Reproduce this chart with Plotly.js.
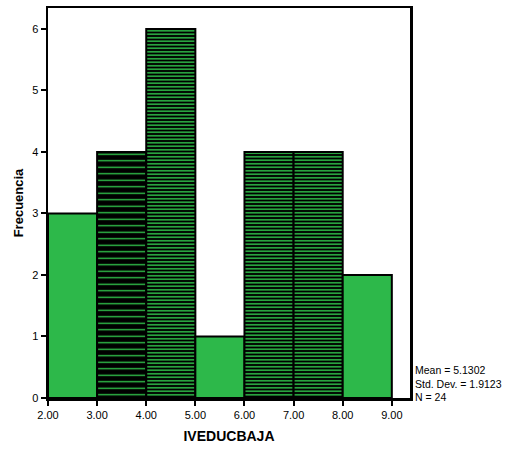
<!DOCTYPE html>
<html>
<head>
<meta charset="utf-8">
<script src="https://cdn.plot.ly/plotly-3.0.1.min.js"></script>
<style>html,body{margin:0;padding:0;background:#fff}#chart{width:520px;height:449px}</style>
</head>
<body>
<div id="chart"></div>
<script>
const binStarts = [2, 3, 4, 5, 6, 7, 8];
const counts = [3, 4, 6, 1, 4, 4, 2];
const tickVals = [2, 3, 4, 5, 6, 7, 8, 9];
const tickText = ["2.00", "3.00", "4.00", "5.00", "6.00", "7.00", "8.00", "9.00"];
const yTicks = [0, 1, 2, 3, 4, 5, 6];
const statsLines = ["Mean = 5.1302", "Std. Dev. = 1.9123", "N = 24"];

const GREEN = "#2db84a";
const hatched = [false, true, true, false, true, true, false];
const shapes = hatched.map(h => h ? "-" : "");
const sizes = [4, 6.5, 3.5, 4, 3.5, 3.5, 4];
const solid = [0.3, 0.2, 0.4, 0.3, 0.4, 0.4, 0.3];

const trace = {
  type: "bar",
  x: binStarts.map(s => s + 0.5),
  y: counts,
  width: 1,
  marker: {
    color: GREEN,
    line: {color: "#000", width: 2},
    pattern: {
      shape: shapes,
      fillmode: "replace",
      fgcolor: "#33cc4f",
      bgcolor: "#000",
      size: sizes,
      solidity: solid
    }
  },
  hoverinfo: "skip"
};

const layout = {
  width: 520, height: 449,
  margin: {l: 48, r: 110, t: 8, b: 51},
  paper_bgcolor: "#fff", plot_bgcolor: "#fff",
  showlegend: false,
  bargap: 0,
  font: {family: "Liberation Sans, Arial, sans-serif", color: "#000"},
  xaxis: {
    range: [2, 9.37],
    tickvals: tickVals, ticktext: tickText,
    ticks: "outside", ticklen: 5, tickwidth: 2, tickcolor: "#000",
    tickfont: {size: 11},
    showline: true, linecolor: "#000", linewidth: 2.5, mirror: true,
    showgrid: false, zeroline: false,
    title: {text: "<b>IVEDUCBAJA</b>", font: {size: 14}, standoff: 12}
  },
  yaxis: {
    range: [0, 6.34],
    tickvals: yTicks,
    ticks: "outside", ticklen: 5, tickwidth: 2, tickcolor: "#000",
    tickfont: {size: 11},
    showline: true, linecolor: "#000", linewidth: 2.5, mirror: true,
    showgrid: false, zeroline: false,
    title: {text: "<b>Frecuencia</b>", font: {size: 13}, standoff: 6}
  },
  annotations: [{
    xref: "paper", yref: "paper", x: 1.008, y: -0.018, xanchor: "left", yanchor: "bottom",
    text: statsLines.join("<br>"), align: "left", showarrow: false,
    font: {size: 10.5, color: "#000"}
  }]
};

Plotly.newPlot("chart", [trace], layout, {displayModeBar: false, staticPlot: true});
</script>
</body>
</html>
